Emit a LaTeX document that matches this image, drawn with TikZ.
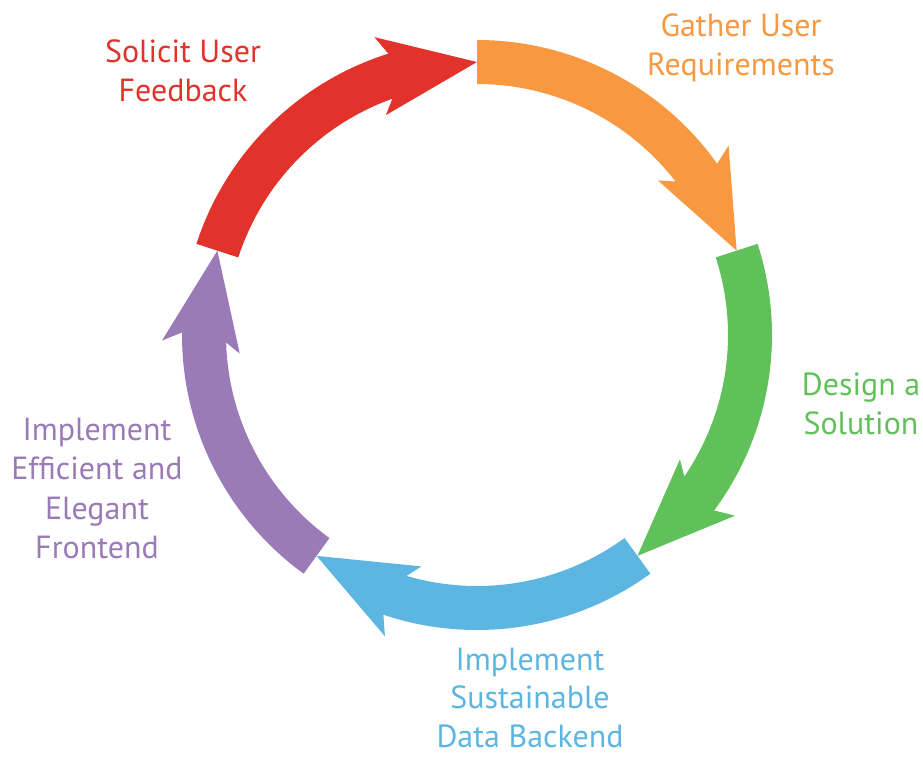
\documentclass[tikz,border=0pt]{standalone}
\usepackage{fontspec}
\setmainfont{PT Sans}
\definecolor{cred}{HTML}{E1322B}
\definecolor{corange}{HTML}{F89841}
\definecolor{cgreen}{HTML}{60C15B}
\definecolor{cblue}{HTML}{5CB6E1}
\definecolor{cpurple}{HTML}{9A7BB8}
\newcommand{\cycarrow}[3]{%
  \fill[#1] ({#2}:295) arc[start angle={#2}, end angle={#3+17.5}, radius=295]
    -- ({#3+19}:315) -- ({#3}:273) -- ({#3+22.5}:238) -- ({#3+19.7}:251)
    arc[start angle={#3+19.7}, end angle={#2}, radius=251] -- cycle;}
\newcommand{\lines}[1]{\begin{tabular}[t]{@{}c@{}}#1\end{tabular}}
\begin{document}
\begin{tikzpicture}[x=1pt,y=1pt,
  lbl/.style={anchor=base, inner sep=0pt, font=\fontsize{32}{39.5}\selectfont}]
\useasboundingbox (0,0) rectangle (923,-756);
\begin{scope}[shift={(477,-335)}]
  \cycarrow{corange}{90}{18}
  \cycarrow{cgreen}{18}{-54}
  \cycarrow{cblue}{-54}{-126}
  \cycarrow{cpurple}{-126}{-198}
  \cycarrow{cred}{162}{90}
\end{scope}
\node[lbl, text=cred] (feedback) at (183,-62) {\lines{Solicit User\\Feedback}};
\node[lbl, text=corange] (gather) at (741,-36) {\lines{Gather User\\Requirements}};
\node[lbl, text=cgreen] (design) at (861,-395) {\lines{Design a\\Solution}};
\node[lbl, text=cblue, font=\fontsize{32}{38.5}\selectfont] (backend) at (530,-670) {\smash{\lines{Implement\\Sustainable\\Data Backend}}};
\node[lbl, text=cpurple] (frontend) at (97,-440) {\lines{Implement\\Efficient and\\Elegant\\Frontend}};
\end{tikzpicture}
\end{document}
